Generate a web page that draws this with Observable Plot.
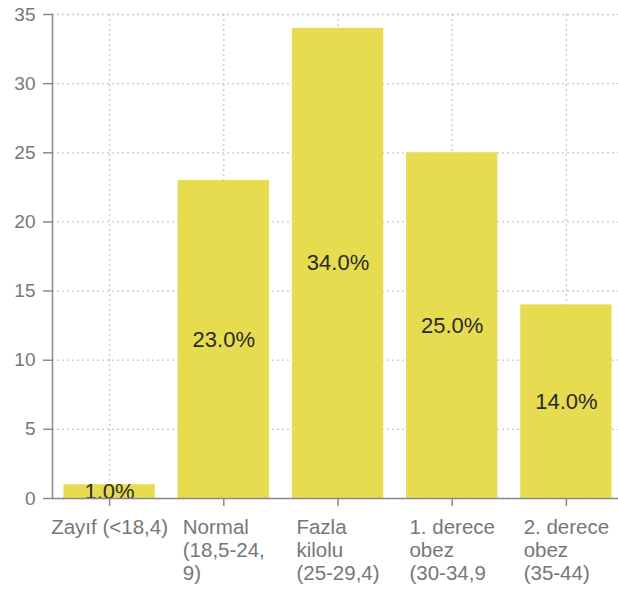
<!DOCTYPE html>
<html>
<head>
<meta charset="utf-8">
<script src="https://cdn.jsdelivr.net/npm/d3@7"></script>
<script src="https://cdn.jsdelivr.net/npm/@observablehq/plot@0.6"></script>
<style>
  html, body { margin: 0; padding: 0; background: #fff; overflow: hidden; }
</style>
</head>
<body>
<div id="chart"></div>
<script>
// BMI groups and the number of respondents in each
const categories = [
  "Zayıf (<18,4)",
  "Normal (18,5-24, 9)",
  "Fazla kilolu (25-29,4)",
  "1. derece obez (30-34,9",
  "2. derece obez (35-44)"
];
const tickLabels = [
  "Zayıf (<18,4)",
  "Normal\n(18,5-24,\n9)",
  "Fazla\nkilolu\n(25-29,4)",
  "1. derece\nobez\n(30-34,9",
  "2. derece\nobez\n(35-44)"
];
const counts = [1, 23, 34, 25, 14];
const yTicks = [0, 5, 10, 15, 20, 25, 30, 35];

const data = categories.map((c, i) => ({ category: c, count: counts[i] }));
const labelOf = c => tickLabels[categories.indexOf(c)];

const font = "'Liberation Sans', Arial, Helvetica, sans-serif";

const chart = Plot.plot({
  width: 623,
  height: 590,
  marginLeft: 52,
  marginRight: 0,
  marginTop: 14,
  marginBottom: 92,
  style: { fontFamily: font, background: "#fff", overflow: "hidden", maxWidth: "none" },
  x: { domain: categories, paddingInner: 0.2, paddingOuter: 0.1, round: false, label: null },
  y: { domain: [0, 35], label: null },
  marks: [
    Plot.gridY(yTicks, { stroke: "#c8c8c8", strokeOpacity: 1, strokeWidth: 1.3, strokeDasharray: "2,3" }),
    Plot.gridX(categories, { stroke: "#c8c8c8", strokeOpacity: 1, strokeWidth: 1.3, strokeDasharray: "2,3" }),
    Plot.barY(data, { x: "category", y: "count", fill: "#e7dc4f" }),
    Plot.text(data, {
      x: "category",
      y: d => d.count / 2,
      text: d => d.count.toFixed(1) + "%",
      fontSize: 22,
      fill: "#2a2a2a"
    }),
    Plot.ruleY([0], { stroke: "#8a8a8a", strokeWidth: 1.5 }),
    Plot.frame({ anchor: "left", stroke: "#8a8a8a", strokeWidth: 1.5 }),
    Plot.axisY(yTicks, {
      tickSize: 9,
      tickPadding: 8,
      fontSize: 19,
      stroke: "#8a8a8a",
      fill: "#777",
      strokeWidth: 1.5,
      label: null
    }),
    Plot.axisX({
      tickSize: 8,
      tickPadding: 11,
      fontSize: 20.5,
      stroke: "#8a8a8a",
      fill: "#777",
      strokeWidth: 1.5,
      tickFormat: labelOf,
      textAnchor: "start",
      lineAnchor: "top",
      lineHeight: 1.13,
      label: null
    })
  ]
});

document.getElementById("chart").append(chart);

// Center each wrapped tick label block under its tick while keeping its lines left-aligned
chart.querySelectorAll('g[aria-label="x-axis tick label"] text').forEach(t => {
  const w = t.getBBox().width;
  const tr = t.getAttribute("transform") || "";
  t.setAttribute("transform", `${tr} translate(${-w / 2},0)`);
});
</script>
</body>
</html>
